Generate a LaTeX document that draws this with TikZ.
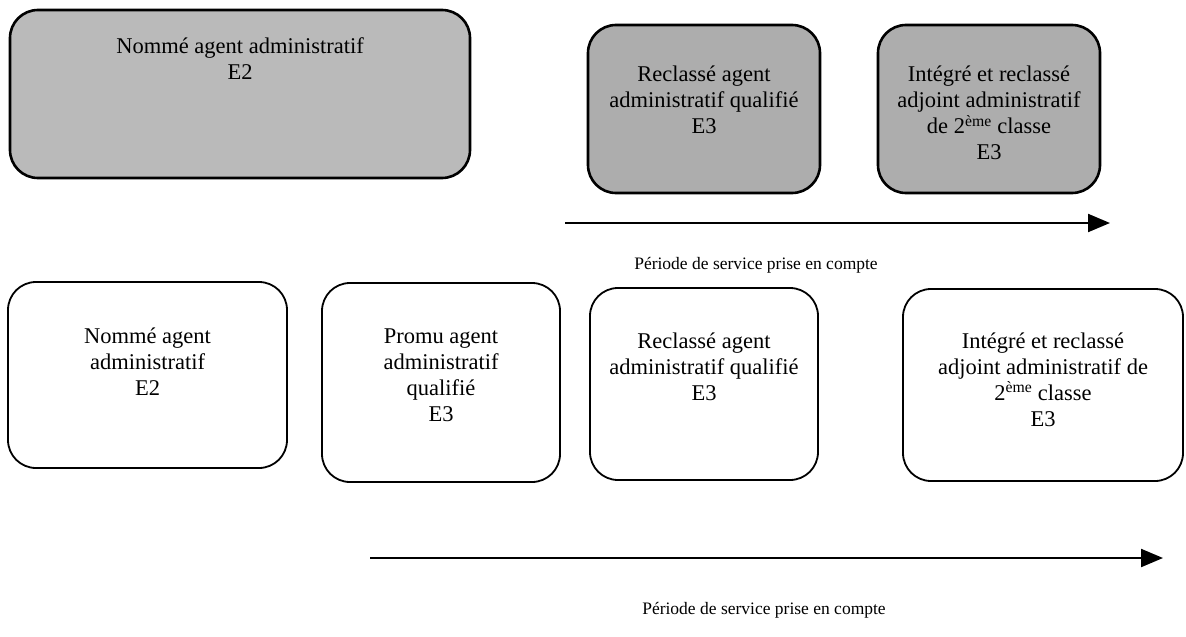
\documentclass[tikz,border=0pt]{standalone}
\usepackage{fontspec}
\setmainfont{Liberation Serif}
\usetikzlibrary{positioning,arrows.meta}

\begin{document}
\begin{tikzpicture}[x=1pt,y=-1pt,
  card/.style={draw, line width=1.8pt, rounded corners=28pt, inner sep=0pt},
  shadecard/.style={card, line width=2.6pt, fill=black!32},
  cardtext/.style={align=center, font=\fontsize{22.5}{26}\selectfont},
  period/.style={font=\fontsize{17.5}{21}\selectfont},
  timeline/.style={line width=2.2pt, -{Triangle[length=22pt,width=18pt]}}]
\path[fill=white, use as bounding box] (0,0) rectangle (1186,637);

% top row: shaded boxes
\node[shadecard, fill=black!27, minimum width=460pt, minimum height=168pt] (ta) at (240,94) {};
\node[shadecard, minimum width=232pt, minimum height=168pt] (tb) at (704,109) {};
\node[shadecard, minimum width=222pt, minimum height=168pt] (tc) at (989,109) {};
\node[cardtext, below=25pt of ta.north] (tatext) {Nommé agent administratif\\E2};
\node[cardtext, below=39pt of tb.north] (tbtext) {Reclassé agent\\administratif qualifié\\E3};
\node[cardtext, below=39pt of tc.north] (tctext) {Intégré et reclassé\\adjoint administratif\\de 2\textsuperscript{ème} classe\\E3};

\coordinate (topstart) at (565,223);
\coordinate (topend) at (1110,223);
\draw[timeline] (topstart) -- (topend);
\node[period] (topperiod) at (756,265) {Période de service prise en compte};

% bottom row: plain boxes
\node[card, minimum width=279pt, minimum height=186pt] (b1) at (147.5,375) {};
\node[card, minimum width=238pt, minimum height=199pt] (b2) at (441,382.5) {};
\node[card, minimum width=228pt, minimum height=192pt] (b3) at (704,384) {};
\node[card, minimum width=280pt, minimum height=192pt] (b4) at (1043,385) {};
\node[cardtext, below=43pt of b1.north] (b1text) {Nommé agent\\administratif\\E2};
\node[cardtext, below=43pt of b2.north] (b2text) {Promu agent\\administratif\\qualifié\\E3};
\node[cardtext, below=42pt of b3.north] (b3text) {Reclassé agent\\administratif qualifié\\E3};
\node[cardtext, below=41pt of b4.north] (b4text) {Intégré et reclassé\\adjoint administratif de\\2\textsuperscript{ème} classe\\E3};

\coordinate (botstart) at (370,558);
\coordinate (botend) at (1163,558);
\draw[timeline] (botstart) -- (botend);
\node[period] (botperiod) at (764,610) {Période de service prise en compte};
\end{tikzpicture}
\end{document}
